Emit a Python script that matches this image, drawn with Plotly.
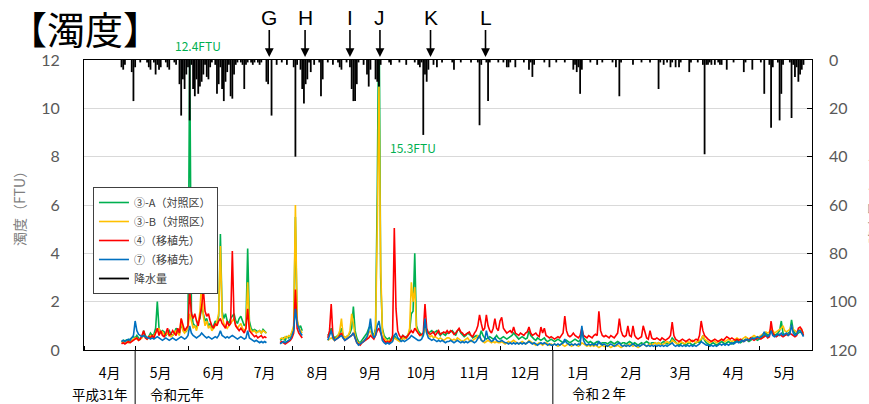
import plotly.graph_objects as go
import pandas as pd

# ---------------------------------------------------------------------------
# Daily series, 2019-04-23 .. 2020-05-27 (401 days).  None = no measurement.
# ---------------------------------------------------------------------------
START = "2019-04-23"
GAP_JUL = [None] * 7    # 2019-07-18 .. 07-24
GAP_AUG = [None] * 14   # 2019-08-08 .. 08-21

# Turbidity (FTU)  ③-A control
site3a = (
    [0.35, 0.4, 0.38, 0.42, 0.4, 0.45, 0.5, 0.55]                                   # Apr 23-30
    + [0.5, 0.6, 0.5, 0.45, 0.55, 0.8, 0.6, 0.5, 0.55, 0.7,
       0.6, 0.65, 0.9, 2.0, 0.9, 0.7, 0.8, 0.75, 0.6, 0.7,
       0.8, 0.65, 0.6, 0.7, 0.9, 0.8, 0.7, 1.0, 0.9, 0.8, 0.75]                      # May
    + [1.0, 12.4, 1.6, 1.1, 1.0, 0.9, 1.2, 1.3, 1.8, 1.5,
       1.2, 1.3, 1.0, 1.1, 0.9, 1.0, 1.2, 1.1, 1.4, 4.8,
       1.6, 1.3, 1.5, 1.2, 1.1, 1.3, 1.4, 1.5, 1.2, 1.1]                             # Jun
    + [1.3, 1.4, 1.2, 1.0, 1.1, 4.2, 1.2, 0.9, 0.8, 0.85,
       0.8, 0.75, 0.8, 0.7, 0.85, 0.75, 0.7]                                         # Jul 1-17
    + GAP_JUL
    + [0.4, 0.45, 0.5, 0.4, 0.55, 0.5, 0.6, 0.7, 0.9, 5.5, 1.2, 0.9, 1.0, 0.8]       # Jul 25-Aug 7
    + GAP_AUG
    + [0.6, 0.7, 0.9, 0.6, 0.5, 0.55, 0.6, 0.7, 0.9, 0.6]                            # Aug 22-31
    + [0.5, 0.55, 0.6, 0.7, 0.9, 1.8, 0.8, 0.5, 0.35, 0.3,
       0.4, 0.5, 0.6, 0.7, 0.9, 1.0, 0.7, 0.6, 0.9, 6.5,
       15.3, 3.0, 0.9, 0.6, 0.5, 0.45, 0.5, 0.4, 0.5, 0.6]                           # Sep
    + [0.5, 0.45, 0.4, 0.5, 0.6, 0.5, 0.55, 0.6, 0.8, 1.5,
       1.6, 4.0, 1.0, 0.8, 0.7, 0.6, 0.6, 1.1, 0.8, 0.7,
       0.75, 0.8, 0.7, 0.75, 0.8, 0.7, 0.6, 0.7, 0.65, 0.6, 0.7]                     # Oct
    + [0.7, 0.75, 0.8, 0.7, 0.6, 0.8, 0.85, 0.7, 0.6, 0.55,
       0.6, 0.7, 0.65, 0.6, 0.5, 0.55, 0.6, 0.5, 0.55, 0.8,
       0.6, 0.5, 0.45, 0.5, 0.55, 0.5, 0.45, 0.5, 0.6, 0.5]                          # Nov
    + [0.45, 0.5, 0.55, 0.5, 0.45, 0.5, 0.55, 0.6, 0.7, 0.6,
       0.5, 0.45, 0.5, 0.55, 0.5, 0.45, 0.5, 0.8, 0.6, 0.5,
       0.45, 0.4, 0.5, 0.45, 0.4, 0.45, 0.5, 0.4, 0.35, 0.4, 0.45]                   # Dec
    + [0.4, 0.35, 0.4, 0.45, 0.4, 0.35, 0.3, 0.35, 0.4, 0.35,
       0.3, 0.35, 0.4, 0.45, 0.4, 0.35, 0.4, 0.75, 0.5, 0.4,
       0.35, 0.3, 0.35, 0.3, 0.25, 0.3, 0.35, 0.3, 0.25, 0.3, 0.3]                   # Jan
    + [0.3, 0.25, 0.3, 0.35, 0.3, 0.25, 0.3, 0.35, 0.3, 0.25,
       0.3, 0.3, 0.25, 0.3, 0.35, 0.3, 0.25, 0.3, 0.25, 0.2,
       0.25, 0.3, 0.25, 0.3, 0.35, 0.3, 0.25, 0.3, 0.3]                              # Feb
    + [0.3, 0.25, 0.3, 0.25, 0.3, 0.35, 0.3, 0.25, 0.3, 0.35,
       0.5, 0.4, 0.3, 0.25, 0.2, 0.25, 0.3, 0.25, 0.2, 0.25,
       0.3, 0.25, 0.2, 0.25, 0.3, 0.35, 0.3, 0.4, 0.6, 0.4, 0.3]                     # Mar
    + [0.25, 0.2, 0.25, 0.3, 0.25, 0.2, 0.25, 0.3, 0.35, 0.3,
       0.25, 0.3, 0.35, 0.3, 0.25, 0.3, 0.35, 0.4, 0.35, 0.3,
       0.35, 0.4, 0.45, 0.4, 0.35, 0.4, 0.45, 0.5, 0.45, 0.4]                        # Apr
    + [0.45, 0.5, 0.55, 0.6, 0.7, 0.6, 0.65, 0.8, 0.7, 0.6,
       0.65, 0.7, 0.8, 1.2, 0.7, 0.6, 0.65, 0.7, 0.75, 1.25,
       0.8, 0.7, 0.65, 0.7, 0.75, 0.7, 0.6]                                          # May 1-27
)

# Turbidity (FTU)  ③-B control
site3b = (
    [0.3, 0.35, 0.3, 0.35, 0.3, 0.35, 0.4, 0.45]
    + [0.5, 0.45, 0.4, 0.45, 0.5, 0.6, 0.5, 0.45, 0.5, 0.6,
       0.55, 0.6, 0.7, 0.8, 0.9, 0.7, 0.75, 0.6, 0.65, 0.7,
       0.6, 0.55, 0.6, 0.7, 0.8, 0.7, 0.6, 1.3, 0.8, 0.7, 0.8]
    + [0.9, 1.5, 1.2, 0.9, 1.0, 0.8, 1.1, 1.6, 2.9, 1.4,
       1.0, 1.2, 0.9, 1.0, 0.8, 0.9, 1.0, 1.2, 1.5, 4.3,
       1.4, 1.1, 1.0, 0.9, 1.0, 1.1, 1.2, 1.3, 1.0, 0.9]
    + [1.0, 1.1, 0.9, 0.8, 0.9, 2.8, 1.0, 0.8, 0.75, 0.8,
       0.7, 0.75, 0.8, 0.7, 0.8, 0.75, 0.7]
    + GAP_JUL
    + [0.45, 0.5, 0.45, 0.55, 0.5, 0.6, 0.55, 0.8, 1.0, 6.0, 1.3, 0.9, 0.8, 0.7]
    + GAP_AUG
    + [0.4, 0.45, 0.5, 0.45, 0.4, 0.5, 0.6, 0.8, 1.3, 0.6]
    + [0.5, 0.55, 0.6, 0.8, 1.5, 1.1, 0.6, 0.35, 0.3, 0.25,
       0.3, 0.4, 0.45, 0.5, 0.7, 0.8, 0.6, 0.55, 0.8, 5.0,
       10.9, 3.5, 0.8, 0.5, 0.4, 0.35, 0.4, 0.35, 0.4, 0.5]
    + [0.45, 0.4, 0.35, 0.4, 0.5, 0.45, 0.5, 0.6, 0.9, 2.8,
       2.0, 2.6, 0.9, 0.7, 0.6, 0.6, 0.7, 0.9, 0.7, 0.6,
       0.55, 0.6, 0.5, 0.55, 0.5, 0.45, 0.5, 0.45, 0.4, 0.45, 0.5]
    + [0.5, 0.45, 0.4, 0.45, 0.4, 0.5, 0.45, 0.4, 0.35, 0.4,
       0.45, 0.5, 0.4, 0.35, 0.4, 0.45, 0.5, 0.6, 0.5, 0.4,
       0.35, 0.3, 0.35, 0.4, 0.35, 0.3, 0.35, 0.3, 0.35, 0.3]
    + [0.3, 0.35, 0.3, 0.25, 0.3, 0.35, 0.3, 0.35, 0.4, 0.35,
       0.3, 0.25, 0.3, 0.35, 0.3, 0.25, 0.3, 0.4, 0.35, 0.3,
       0.25, 0.2, 0.25, 0.3, 0.25, 0.2, 0.25, 0.3, 0.25, 0.2, 0.25]
    + [0.2, 0.25, 0.2, 0.15, 0.2, 0.25, 0.2, 0.15, 0.2, 0.25,
       0.2, 0.15, 0.2, 0.25, 0.2, 0.15, 0.2, 0.3, 0.25, 0.2,
       0.15, 0.2, 0.15, 0.2, 0.15, 0.2, 0.15, 0.1, 0.15, 0.2, 0.15]
    + [0.15, 0.2, 0.15, 0.1, 0.15, 0.2, 0.15, 0.2, 0.15, 0.1,
       0.15, 0.2, 0.15, 0.2, 0.25, 0.2, 0.15, 0.2, 0.15, 0.1,
       0.15, 0.2, 0.25, 0.2, 0.15, 0.2, 0.25, 0.2, 0.25]
    + [0.3, 0.25, 0.3, 0.25, 0.2, 0.25, 0.3, 0.35, 0.3, 0.25,
       0.4, 0.35, 0.3, 0.25, 0.3, 0.35, 0.3, 0.25, 0.3, 0.35,
       0.3, 0.35, 0.4, 0.35, 0.3, 0.35, 0.4, 0.45, 0.6, 0.45, 0.4]
    + [0.35, 0.3, 0.35, 0.4, 0.35, 0.3, 0.35, 0.4, 0.45, 0.4,
       0.35, 0.4, 0.45, 0.4, 0.35, 0.4, 0.45, 0.5, 0.45, 0.4,
       0.45, 0.5, 0.55, 0.5, 0.45, 0.5, 0.55, 0.6, 0.55, 0.5]
    + [0.55, 0.6, 0.65, 0.7, 0.75, 0.7, 0.75, 0.9, 0.8, 0.7,
       0.75, 0.8, 0.85, 0.9, 1.0, 0.8, 0.75, 0.8, 0.85, 1.0,
       0.85, 0.8, 0.75, 0.8, 0.85, 0.8, 0.7]
)

# Turbidity (FTU)  ④ transplant site
site4 = (
    [0.25, 0.3, 0.25, 0.3, 0.35, 0.3, 0.35, 0.4]
    + [0.45, 0.5, 0.4, 0.45, 0.6, 0.8, 0.5, 0.45, 0.55, 0.5,
       0.6, 0.5, 0.7, 0.9, 0.6, 0.8, 0.6, 0.55, 0.7, 0.9,
       0.6, 0.65, 0.8, 0.7, 0.6, 0.9, 0.7, 1.3, 1.0, 0.8, 0.9]
    + [1.0, 2.5, 1.5, 1.3, 1.5, 1.2, 1.0, 1.4, 1.8, 2.5,
       1.6, 1.4, 1.5, 1.2, 1.0, 0.9, 1.1, 1.0, 1.2, 1.3,
       1.1, 1.0, 0.9, 1.2, 1.0, 1.1, 4.1, 1.3, 1.0, 0.9]
    + [0.8, 0.9, 0.8, 0.7, 0.9, 1.7, 0.8, 0.7, 0.6, 0.55,
       0.6, 0.5, 0.55, 0.6, 0.5, 0.55, 0.5]
    + GAP_JUL
    + [0.3, 0.35, 0.3, 0.25, 0.3, 0.35, 0.4, 0.5, 0.7, 2.5, 0.9, 0.7, 0.6, 0.5]
    + GAP_AUG
    + [0.5, 0.8, 1.9, 0.6, 0.4, 0.45, 0.5, 0.6, 0.7, 0.5]
    + [0.4, 0.45, 0.5, 0.55, 0.6, 0.7, 0.5, 0.3, 0.25, 0.2,
       0.3, 0.35, 0.4, 0.45, 0.5, 0.6, 0.5, 0.45, 0.6, 0.8,
       0.9, 0.7, 0.5, 0.4, 0.3, 0.35, 0.3, 0.4, 0.6, 5.05]
    + [1.7, 0.8, 0.6, 0.5, 0.6, 0.55, 0.5, 0.6, 0.7, 0.8,
       0.7, 0.9, 0.8, 0.7, 0.6, 0.65, 0.7, 1.9, 0.9, 0.7,
       0.65, 0.7, 0.75, 0.6, 0.7, 0.8, 0.65, 0.7, 0.75, 0.7, 0.8]
    + [0.7, 0.8, 0.75, 0.65, 0.7, 0.8, 0.9, 0.75, 0.7, 0.6,
       0.65, 0.7, 0.75, 0.6, 0.55, 0.7, 0.8, 1.0, 1.45, 1.1,
       0.8, 0.9, 1.45, 1.0, 0.8, 0.7, 0.9, 1.3, 0.9, 0.8]
    + [1.2, 1.35, 0.9, 0.8, 0.7, 0.75, 0.8, 0.7, 0.95, 0.7,
       0.65, 0.6, 0.7, 0.65, 0.6, 0.7, 0.75, 0.95, 0.7, 0.6,
       0.65, 0.7, 0.6, 0.55, 0.95, 0.7, 0.9, 0.6, 0.55, 0.5, 0.55]
    + [0.5, 0.45, 0.5, 0.55, 0.5, 0.6, 0.7, 1.4, 0.8, 0.6,
       0.55, 0.6, 0.7, 0.6, 0.55, 0.5, 0.6, 0.9, 0.6, 0.55,
       0.5, 0.6, 0.55, 0.5, 0.6, 0.65, 0.6, 1.6, 0.8, 0.6, 0.55]
    + [0.6, 0.55, 0.5, 0.6, 0.55, 0.5, 0.6, 0.7, 1.3, 0.8,
       0.6, 0.55, 0.6, 1.0, 0.6, 0.55, 1.0, 0.6, 0.5, 0.45,
       0.5, 0.55, 1.0, 0.7, 0.5, 0.45, 0.8, 0.5, 0.45]
    + [0.45, 0.5, 0.45, 0.4, 0.5, 0.45, 0.4, 0.45, 0.5, 0.6,
       1.15, 0.6, 0.45, 0.4, 0.35, 0.4, 0.45, 0.4, 0.35, 0.4,
       0.45, 0.4, 0.35, 0.4, 0.45, 0.4, 0.6, 1.2, 0.8, 0.6, 0.5]
    + [0.45, 0.4, 0.35, 0.4, 0.45, 0.4, 0.35, 0.4, 0.45, 0.4,
       0.5, 0.55, 0.5, 0.45, 0.5, 0.45, 0.4, 0.45, 0.4, 0.45,
       0.4, 0.35, 0.4, 0.45, 0.4, 0.5, 0.45, 0.4, 0.45, 0.5]
    + [0.5, 0.45, 0.5, 0.55, 0.6, 0.5, 0.55, 1.2, 0.7, 0.6,
       0.55, 0.6, 0.65, 0.6, 0.55, 0.6, 0.65, 0.6, 0.7, 0.65,
       0.6, 0.55, 0.6, 0.9, 0.95, 0.85, 0.6]
)

# Turbidity (FTU)  ⑦ transplant site
site7 = (
    [0.35, 0.4, 0.35, 0.4, 0.45, 0.4, 0.5, 0.6]
    + [1.2, 0.8, 0.65, 0.6, 0.55, 0.6, 0.55, 0.5, 0.5, 0.45,
       0.5, 0.45, 0.5, 0.55, 0.5, 0.45, 0.4, 0.45, 0.5, 0.45,
       0.4, 0.45, 0.5, 0.45, 0.4, 0.45, 0.5, 0.55, 0.5, 0.45, 0.5]
    + [0.6, 1.0, 0.7, 0.6, 0.55, 0.5, 0.55, 0.6, 0.7, 0.6,
       0.55, 0.5, 0.55, 0.5, 0.45, 0.5, 0.55, 0.5, 0.6, 0.8,
       0.6, 0.55, 0.5, 0.55, 0.5, 0.55, 0.6, 0.55, 0.5, 0.45]
    + [0.5, 0.55, 0.5, 0.45, 0.5, 0.8, 0.5, 0.45, 0.4, 0.35,
       0.4, 0.35, 0.3, 0.35, 0.3, 0.35, 0.3]
    + GAP_JUL
    + [0.25, 0.3, 0.35, 0.3, 0.35, 0.4, 0.45, 0.6, 0.8, 1.7, 1.1, 0.9, 0.7, 0.6]
    + GAP_AUG
    + [0.4, 0.6, 0.8, 0.5, 0.4, 0.45, 0.5, 0.55, 0.6, 0.5]
    + [0.4, 0.45, 0.5, 0.55, 0.6, 0.7, 0.45, 0.3, 0.2, 0.25,
       0.3, 0.35, 0.45, 0.55, 0.8, 1.3, 0.7, 0.5, 0.6, 1.0,
       1.2, 0.7, 0.4, 0.3, 0.25, 0.3, 0.25, 0.3, 0.35, 0.6]
    + [0.7, 0.5, 0.4, 0.35, 0.4, 0.35, 0.4, 0.45, 0.5, 0.6,
       0.55, 0.5, 0.45, 0.4, 0.4, 0.45, 0.6, 1.3, 0.7, 0.5,
       0.45, 0.4, 0.45, 0.4, 0.35, 0.4, 0.35, 0.4, 0.35, 0.3, 0.35]
    + [0.35, 0.4, 0.35, 0.3, 0.35, 0.4, 0.35, 0.3, 0.35, 0.3,
       0.35, 0.3, 0.35, 0.4, 0.35, 0.3, 0.35, 0.45, 0.6, 0.4,
       0.35, 0.4, 0.8, 0.5, 0.4, 0.35, 0.4, 0.5, 0.4, 0.35]
    + [0.35, 0.4, 0.35, 0.3, 0.3, 0.25, 0.3, 0.25, 0.3, 0.25,
       0.3, 0.25, 0.3, 0.25, 0.3, 0.25, 0.3, 0.35, 0.3, 0.25,
       0.3, 0.25, 0.2, 0.25, 0.3, 0.25, 0.3, 0.25, 0.2, 0.25, 0.2]
    + [0.2, 0.25, 0.2, 0.25, 0.2, 0.25, 0.3, 0.45, 0.3, 0.25,
       0.2, 0.25, 0.2, 0.25, 0.2, 0.25, 0.2, 1.0, 0.4, 0.25,
       0.2, 0.25, 0.2, 0.25, 0.2, 0.25, 0.2, 0.35, 0.25, 0.2, 0.25]
    + [0.2, 0.15, 0.2, 0.25, 0.2, 0.15, 0.2, 0.25, 0.3, 0.2,
       0.15, 0.2, 0.15, 0.2, 0.15, 0.2, 0.25, 0.2, 0.15, 0.2,
       0.15, 0.2, 0.25, 0.2, 0.15, 0.2, 0.15, 0.2, 0.15]
    + [0.2, 0.15, 0.2, 0.15, 0.2, 0.15, 0.2, 0.15, 0.2, 0.25,
       0.3, 0.2, 0.15, 0.2, 0.15, 0.2, 0.15, 0.2, 0.15, 0.2,
       0.15, 0.2, 0.15, 0.2, 0.15, 0.2, 0.25, 0.35, 0.3, 0.25, 0.2]
    + [0.2, 0.15, 0.2, 0.15, 0.2, 0.15, 0.2, 0.25, 0.2, 0.25,
       0.2, 0.25, 0.2, 0.25, 0.3, 0.25, 0.3, 0.35, 0.3, 0.35,
       0.4, 0.35, 0.4, 0.45, 0.4, 0.45, 0.5, 0.45, 0.5, 0.55]
    + [0.5, 0.55, 0.6, 0.75, 0.6, 0.55, 0.6, 0.8, 0.6, 0.55,
       0.6, 0.65, 0.6, 0.7, 0.6, 0.65, 0.7, 0.6, 0.65, 1.05,
       0.7, 0.6, 0.65, 0.8, 0.8, 0.7, 0.55]
)

# Daily precipitation (mm)
rain = (
    [3, 4, 2, 0, 0, 0, 5, 17]
    + [3, 0, 0, 1, 0, 0, 0, 1, 3, 4, 0, 1, 6, 2, 4, 3, 0, 0, 1, 3,
       4, 0, 0, 1, 2, 0, 10, 23, 8, 12, 6]
    + [3, 25, 2, 12, 15, 8, 14, 11, 9, 6, 2, 7, 8, 3, 1, 0, 2, 14, 10, 3,
       12, 17, 9, 5, 2, 15, 16, 6, 2, 1]
    + [0, 1, 2, 12, 2, 1, 0, 1, 2, 1, 0, 1, 2, 1, 0, 0, 9, 10, 0, 23,
       0, 0, 2, 0, 0, 1, 0, 0, 2, 0, 0]
    + [0, 3, 40, 2, 0, 4, 12, 18, 10, 8, 1, 5, 0, 2, 0, 0, 1, 15, 8, 0,
       0, 1, 0, 0, 2, 0, 0, 1, 3, 4, 0]
    + [0, 1, 0, 3, 12, 17, 17, 10, 1, 0, 0, 2, 0, 6, 11, 4, 0, 0, 8, 9,
       11, 2, 0, 0, 0, 0, 1, 2, 0, 0]
    + [0, 0, 1, 0, 0, 0, 2, 0, 0, 0, 0, 1, 0, 2, 3, 1, 31, 6, 9, 4,
       0, 0, 2, 0, 3, 0, 0, 1, 0, 0, 0]
    + [0, 0, 1, 4, 0, 0, 0, 1, 0, 0, 0, 0, 0, 1, 0, 0, 0, 1, 27, 2,
       0, 0, 1, 17, 1, 0, 0, 0, 0, 1]
    + [0, 0, 1, 0, 3, 3, 1, 0, 0, 3, 0, 0, 0, 0, 1, 0, 0, 4, 1, 7,
       2, 0, 0, 0, 0, 0, 1, 0, 0, 3, 0]
    + [0, 0, 1, 0, 0, 0, 0, 1, 0, 0, 0, 0, 4, 2, 5, 3, 14, 4, 0, 0,
       0, 0, 1, 0, 0, 0, 2, 0, 0, 1, 0]
    + [0, 0, 0, 0, 1, 0, 3, 0, 15, 1, 0, 0, 0, 0, 0, 0, 2, 0, 0, 0,
       0, 1, 0, 0, 0, 0, 1, 0, 0]
    + [0, 0, 12, 1, 0, 2, 0, 1, 0, 3, 1, 0, 3, 0, 3, 1, 0, 0, 0, 0,
       5, 1, 0, 0, 0, 1, 0, 0, 2, 39, 2]
    + [2, 1, 2, 0, 2, 0, 1, 2, 2, 0, 0, 4, 0, 0, 0, 1, 0, 0, 0, 0,
       0, 5, 1, 0, 0, 0, 4, 0, 0, 0]
    + [0, 1, 0, 14, 0, 0, 2, 28, 3, 0, 0, 1, 25, 14, 2, 0, 0, 0, 1, 24,
       2, 7, 3, 9, 6, 4, 2]
)

N_DAYS = 401
for s in (site3a, site3b, site4, site7, rain):
    assert len(s) == N_DAYS, len(s)

dates = pd.date_range(START, periods=N_DAYS, freq="D")

SERIES_NAMES = ["③-A（対照区）", "③-B（対照区）", "④（移植先）", "⑦（移植先）"]
SERIES_COLORS = ["#00B050", "#FFC000", "#FF0000", "#0070C0"]
RAIN_NAME = "降水量"

MONTH_TICKS = ["2019-04-16", "2019-05-16", "2019-06-16", "2019-07-16", "2019-08-16",
               "2019-09-16", "2019-10-16", "2019-11-16", "2019-12-16", "2020-01-16",
               "2020-02-16", "2020-03-16", "2020-04-16", "2020-05-16"]
MONTH_LABELS = ["4月", "5月", "6月", "7月", "8月", "9月", "10月", "11月", "12月",
                "1月", "2月", "3月", "4月", "5月"]

EVENT_LABELS = ["G", "H", "I", "J", "K", "L"]
EVENT_DATES = ["2019-07-18 16:00", "2019-08-08 16:00", "2019-09-04 00:00",
               "2019-09-21 14:00", "2019-10-21 06:00", "2019-11-22 12:00"]

ERA_SPLITS = ["2019-05-01", "2020-01-01"]

JP = "Noto Sans CJK JP"
NUM = "Lato"

fig = go.Figure()

for vals, name, color in zip((site3a, site3b, site4, site7), SERIES_NAMES, SERIES_COLORS):
    fig.add_trace(go.Scatter(
        x=dates, y=vals, name=name, mode="lines",
        line=dict(color=color, width=1.6), connectgaps=False,
    ))

# precipitation as thin vertical bars hanging from the top (reversed y2)
rx, ry = [], []
for d, v in zip(dates, rain):
    if v > 0:
        rx += [d, d, None]
        ry += [0, v, None]
fig.add_trace(go.Scatter(
    x=rx, y=ry, name=RAIN_NAME, mode="lines", yaxis="y2",
    line=dict(color="black", width=1.8),
))

annotations = [
    dict(text="【濁度】", xref="paper", yref="paper", x=-0.106, y=(350 - 27) / 290,
         xanchor="left", yanchor="middle", showarrow=False,
         font=dict(family=JP, size=38, color="black")),
    dict(text="12.4FTU", xref="paper", yref="paper", x=(198 - 84) / 731, y=(350 - 45) / 290,
         xanchor="center", yanchor="middle", showarrow=False,
         font=dict(family=JP, size=12, color="#00B050")),
    dict(text="15.3FTU", xref="paper", yref="paper", x=(414 - 84) / 731, y=(350 - 147) / 290,
         xanchor="center", yanchor="middle", showarrow=False,
         font=dict(family=JP, size=12, color="#00B050")),
    dict(text="平成31年", xref="paper", yref="paper", x=(100 - 84) / 731, y=(350 - 394) / 290,
         xanchor="center", yanchor="middle", showarrow=False,
         font=dict(family=JP, size=13.5, color="black")),
    dict(text="令和元年", xref="paper", yref="paper", x=(177 - 84) / 731, y=(350 - 394) / 290,
         xanchor="center", yanchor="middle", showarrow=False,
         font=dict(family=JP, size=13.5, color="black")),
    dict(text="令和２年", xref="paper", yref="paper", x=(601 - 84) / 731, y=(350 - 393) / 290,
         xanchor="center", yanchor="middle", showarrow=False,
         font=dict(family=JP, size=13.5, color="black")),
    dict(text="降水量（mm）", xref="paper", yref="paper", x=(877 - 84) / 731, y=(350 - 196) / 290,
         xanchor="center", yanchor="middle", showarrow=False, textangle=-90,
         font=dict(family=JP, size=14, color="#7F7F7F")),
]
for lab, d in zip(EVENT_LABELS, EVENT_DATES):
    annotations.append(dict(
        text=lab, x=d, xref="x", y=(350 - 57) / 290, yref="paper",
        showarrow=True, ax=0, ay=-40, arrowhead=2, arrowsize=1.1, arrowwidth=1.6,
        arrowcolor="black", standoff=0,
        font=dict(family="Liberation Sans", size=21, color="black"),
    ))

shapes = [
    dict(type="line", xref="x", yref="paper", x0=d, x1=d, y0=-0.19, y1=0,
         line=dict(color="black", width=1))
    for d in ERA_SPLITS
]

fig.update_layout(
    width=869, height=404,
    margin=dict(l=84, r=54, t=60, b=54),
    paper_bgcolor="white", plot_bgcolor="white",
    showlegend=True,
    legend=dict(
        x=(93 - 84) / 731, y=(350 - 187) / 290, xanchor="left", yanchor="top",
        bgcolor="white", bordercolor="#404040", borderwidth=1,
        font=dict(family=JP, size=11, color="#404040"),
        itemwidth=30, tracegroupgap=0,
    ),
    xaxis=dict(
        type="date", range=["2019-04-01", "2020-06-01"],
        tickmode="array", tickvals=MONTH_TICKS, ticktext=MONTH_LABELS,
        ticks="", ticklabelstandoff=10,
        tickfont=dict(family=JP, size=14, color="black"),
        showgrid=False, zeroline=False,
        showline=True, linecolor="black", linewidth=1, mirror=True,
        minor=dict(ticks="inside", ticklen=4, tickcolor="black",
                   dtick="M1", tick0="2019-04-01", showgrid=False),
    ),
    yaxis=dict(
        range=[0, 12], dtick=2, showgrid=True, gridcolor="#D9D9D9", gridwidth=1,
        zeroline=False, showline=True, linecolor="black", linewidth=1, mirror=True,
        ticks="", ticklabelstandoff=20,
        tickfont=dict(family=NUM, size=16, color="#595959"),
        title=dict(text="濁度（FTU）", standoff=12,
                   font=dict(family=JP, size=14, color="#7F7F7F")),
    ),
    yaxis2=dict(
        overlaying="y", side="right", range=[120, 0], dtick=20,
        showgrid=False, zeroline=False, showline=False,
        ticks="inside", ticklen=5, tickcolor="black",
        ticklabelstandoff=16,
        tickfont=dict(family=NUM, size=16, color="#595959"),
    ),
    annotations=annotations,
    shapes=shapes,
)

fig.write_html("out.html")
